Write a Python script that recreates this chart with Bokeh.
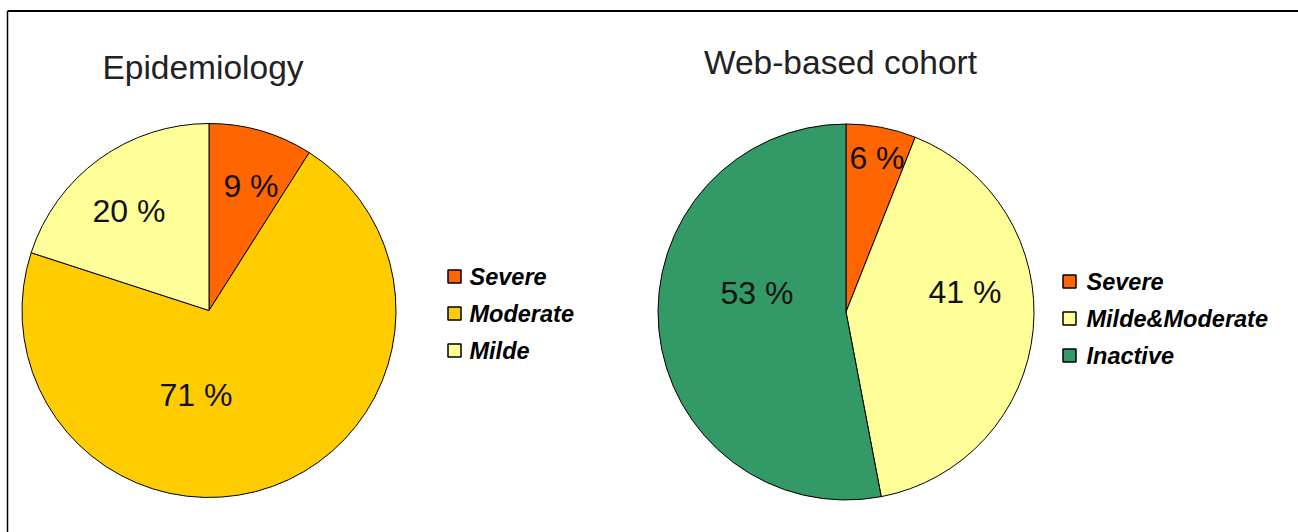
import math
from bokeh.plotting import figure
from bokeh.models import Range1d, ColumnDataSource
from bokeh.core.properties import value
from bokeh.embed import file_html
from bokeh.resources import INLINE

# ---------------- data ----------------
epi_title = "Epidemiology"
epi_categories = ["Severe", "Moderate", "Milde"]
epi_values = [9, 71, 20]
epi_colors = ["#FF6600", "#FFCC00", "#FFFF99"]

web_title = "Web-based cohort"
web_categories = ["Severe", "Milde&Moderate", "Inactive"]
web_values = [6, 41, 53]
web_colors = ["#FF6600", "#FFFF99", "#339966"]

# ---------------- layout (pixels, top-left origin) ----------------
W, H = 1298, 532
FONT = "Liberation Sans"

pies = [
    dict(title=epi_title, cats=epi_categories, vals=epi_values, cols=epi_colors,
         cx=208.5, cy=310, r=187, title_x=202.5, title_base=67,
         label_off=[(42, -125), (-13, 84), (-80, -100)],
         leg_sq_x=454, leg_txt_x=469, leg_rows=[276, 313, 350]),
    dict(title=web_title, cats=web_categories, vals=web_values, cols=web_colors,
         cx=845.5, cy=311.5, r=188, title_x=840, title_base=62,
         label_off=[(31, -154), (119, -20), (-89, -19)],
         leg_sq_x=1069, leg_txt_x=1086, leg_rows=[281, 318, 355]),
]


def Y(y):
    return H - y


p = figure(width=W, height=H, output_backend="svg", toolbar_location=None,
           x_range=Range1d(0, W), y_range=Range1d(0, H), min_border=0,
           background_fill_color="white", border_fill_color="white")
p.axis.visible = False
p.grid.visible = False
p.outline_line_color = None

# frame lines (top and left)
p.line([7, W], [Y(10.5), Y(10.5)], line_color="black", line_width=2)
p.line([7, 7], [Y(10.5), 0], line_color="black", line_width=1.5)

for d in pies:
    total = float(sum(d["vals"]))
    starts, ends = [], []
    cum = 0.0
    for v in d["vals"]:
        a0 = math.pi / 2 - 2 * math.pi * cum / total
        cum += v
        a1 = math.pi / 2 - 2 * math.pi * cum / total
        starts.append(a0)
        ends.append(a1)
    src = ColumnDataSource(dict(
        x=[d["cx"]] * len(d["vals"]), y=[Y(d["cy"])] * len(d["vals"]),
        start=starts, end=ends, color=d["cols"], cat=d["cats"]))
    p.wedge(x="x", y="y", radius=d["r"], start_angle="start", end_angle="end",
            direction="clock", fill_color="color", line_color="black",
            line_width=1, source=src)

    # percentage labels
    lx = [d["cx"] + o[0] for o in d["label_off"]]
    ly = [Y(d["cy"] + o[1]) for o in d["label_off"]]
    p.text(x=lx, y=ly, text=["%d %%" % v for v in d["vals"]],
           text_font=value(FONT), text_font_size=value("32px"),
           text_color="#111111", text_align="center", text_baseline="middle")

    # title
    p.text(x=[d["title_x"]], y=[Y(d["title_base"])], text=[d["title"]],
           text_font=value(FONT), text_font_size=value("33.5px"),
           text_color="#222222", text_align="center", text_baseline="alphabetic")

    # legend
    ys = [Y(r) for r in d["leg_rows"]]
    p.rect(x=[d["leg_sq_x"]] * len(ys), y=ys, width=13, height=13,
           width_units="screen", height_units="screen",
           fill_color=d["cols"], line_color="black", line_width=1.5)
    p.text(x=[d["leg_txt_x"]] * len(ys), y=ys, text=d["cats"],
           text_font=value(FONT), text_font_size=value("23.5px"),
           text_font_style="bold italic", text_color="black",
           text_align="left", text_baseline="middle")

open("out.html", "w").write(file_html(p, INLINE))
